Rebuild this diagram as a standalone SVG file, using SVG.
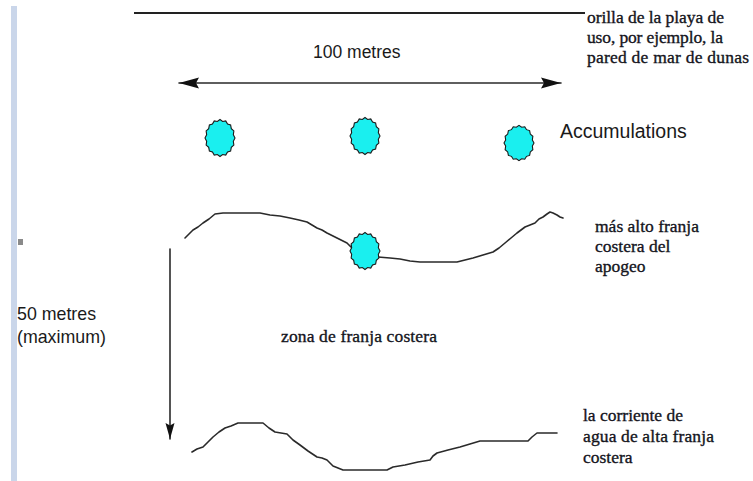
<svg xmlns="http://www.w3.org/2000/svg" width="753" height="481" viewBox="0 0 753 481">
  <style>
    .sans { font-family: "Liberation Sans", Arial, sans-serif; fill: #1a1a1a; }
    .serif { font-family: "Liberation Serif", "Times New Roman", serif; font-size: 17.5px; fill: #14141c; stroke: #14141c; stroke-width: 0.35; }
    .line { fill: none; stroke: #2a2a2a; stroke-width: 1.6; stroke-linejoin: round; stroke-linecap: round; }
    .blob { fill: #1aefef; stroke: #1a1a1a; stroke-width: 1.1; stroke-linejoin: miter; }
  </style>
  <defs>
    <!-- spiky ellipse used for every accumulation -->
    <path id="spiky" d="M15,0 L13.34,3.3 L13.86,7.08 L11.31,9.39 L10.61,13.08 L7.56,14.05 L5.74,17.09 L2.65,16.58 L0,18.5 L-2.65,16.58 L-5.74,17.09 L-7.56,14.05 L-10.61,13.08 L-11.31,9.39 L-13.86,7.08 L-13.34,3.3 L-15,0 L-13.34,-3.3 L-13.86,-7.08 L-11.31,-9.39 L-10.61,-13.08 L-7.56,-14.05 L-5.74,-17.09 L-2.65,-16.58 L0,-18.5 L2.65,-16.58 L5.74,-17.09 L7.56,-14.05 L10.61,-13.08 L11.31,-9.39 L13.86,-7.08 L13.34,-3.3 Z"/>
    <marker id="headH" markerUnits="userSpaceOnUse" markerWidth="22" markerHeight="14" refX="20" refY="6" orient="auto-start-reverse">
      <path d="M0,0.5 L20,6 L0,11.5 L3,6 Z" fill="#111"/>
    </marker>
    <marker id="headV" markerUnits="userSpaceOnUse" markerWidth="18" markerHeight="12" refX="16" refY="5" orient="auto">
      <path d="M0,0.5 L16,5 L0,9.5 L2.5,5 Z" fill="#111"/>
    </marker>
  </defs>

  <rect width="753" height="481" fill="#ffffff"/>

  <!-- page margin bar -->
  <rect x="11" y="6" width="6" height="475" fill="#cad6ea"/>
  <rect x="18" y="239" width="5" height="6" fill="#8a8a8a"/>

  <!-- shoreline at the top -->
  <g id="shore">
    <line x1="134" y1="13" x2="585" y2="13" stroke="#222" stroke-width="2"/>
  </g>

  <!-- measurement arrows and strand lines -->
  <g id="connectors">
    <line class="line" x1="179" y1="83" x2="561" y2="83" marker-start="url(#headH)" marker-end="url(#headH)" stroke="#111"/>
    <line class="line" x1="170" y1="249" x2="170" y2="439" marker-end="url(#headV)" stroke="#333" stroke-width="1.4"/>
    <polyline id="upper-strand" class="line" points="185,238 189,234 193,230 198,227 203,223 209,219 215,214 223,213 240,213 260,213 270,215 280,216 290,218 299,220 307,222 312,225 317,228 322,230 327,233 337,238 347,243 352,248"/>
    <polyline id="upper-strand-2" class="line" points="378,257 390,258 400,259 410,261 420,262 440,262 457,262 465,260 473,258 483,255 493,252 499,248 505,243 511,238 517,233 521,230 525,227 530,225 535,223 539,219 543,217 547,214 550,212 553,213 557,215 560,217 563,218"/>
    <polyline id="lower-strand" class="line" points="192,452 197,449 203,447 208,442 213,437 219,432 225,428 231,426 238,423 250,423 263,423 269,428 275,432 281,433 287,434 293,440 300,445 308,451 317,457 322,458 327,460 330,463 333,466 338,468 343,470 365,470 387,470 393,467 405,465 418,462 430,460 433,456 437,453 448,450 460,447 470,444 480,441 500,441 528,441 532,437 537,433 547,433 557,433"/>
  </g>

  <!-- accumulations -->
  <g id="accumulation-1"><use href="#spiky" class="blob" transform="translate(220,138)"/></g>
  <g id="accumulation-2"><use href="#spiky" class="blob" transform="translate(365,136)"/></g>
  <g id="accumulation-3"><use href="#spiky" class="blob" transform="translate(519,143) scale(1,0.95)"/></g>
  <g id="accumulation-4"><use href="#spiky" class="blob" transform="translate(365,251)"/></g>

  <!-- labels -->
  <g id="label-100m">
    <text class="sans" x="313" y="58" font-size="17.5">100 metres</text>
  </g>
  <g id="label-accumulations">
    <text class="sans" x="560" y="138" font-size="19.5">Accumulations</text>
  </g>
  <g id="label-50m">
    <text class="sans" x="17" y="320" font-size="17.8">50 metres</text>
    <text class="sans" x="17" y="343" font-size="17.8">(maximum)</text>
  </g>
  <g id="label-shore">
    <text class="serif" x="587" y="23" textLength="137" lengthAdjust="spacing">orilla de la playa de</text>
    <text class="serif" x="587" y="43" textLength="136" lengthAdjust="spacing">uso, por ejemplo, la</text>
    <text class="serif" x="587" y="63" textLength="162" lengthAdjust="spacing">pared de mar de dunas</text>
  </g>
  <g id="label-upper-strand">
    <text class="serif" x="595" y="232" textLength="104" lengthAdjust="spacing">más alto franja</text>
    <text class="serif" x="595" y="252">costera del</text>
    <text class="serif" x="595" y="272">apogeo</text>
  </g>
  <g id="label-zone">
    <text class="serif" x="281" y="342" textLength="156" lengthAdjust="spacing">zona de franja costera</text>
  </g>
  <g id="label-lower-strand">
    <text class="serif" x="583" y="421" textLength="100" lengthAdjust="spacing">la corriente de</text>
    <text class="serif" x="583" y="442" textLength="131" lengthAdjust="spacing">agua de alta franja</text>
    <text class="serif" x="583" y="463">costera</text>
  </g>
</svg>
